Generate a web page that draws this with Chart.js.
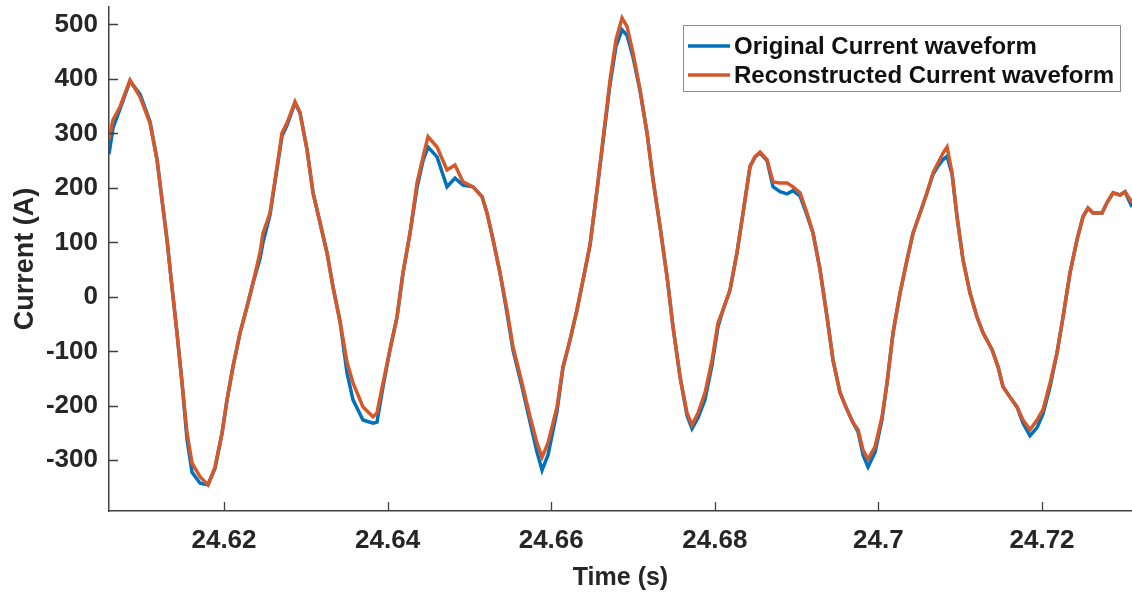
<!DOCTYPE html>
<html>
<head>
<meta charset="utf-8">
<title>Current waveform</title>
<script src="https://cdn.jsdelivr.net/npm/chart.js@4.4.1/dist/chart.umd.min.js"></script>
<style>
  html, body { margin: 0; padding: 0; background: #ffffff; overflow: hidden; }
  #wrap { width: 1132px; height: 593px; position: relative; }
</style>
</head>
<body>
<div id="wrap"><canvas id="chart" width="1132" height="593"></canvas></div>
<script>
// Sample times (s)
const timeS = [
  24.60594, 24.60643, 24.60729, 24.60851, 24.60973, 24.61095, 24.61181, 24.61242, 24.61303, 24.61364,
  24.61425, 24.61487, 24.61548, 24.61609, 24.61707, 24.61804, 24.61890, 24.61976, 24.62037, 24.62110,
  24.62196, 24.62281, 24.62355, 24.62440, 24.62477, 24.62562, 24.62648, 24.62709, 24.62770, 24.62868,
  24.62929, 24.63015, 24.63088, 24.63174, 24.63259, 24.63333, 24.63418, 24.63504, 24.63577, 24.63699,
  24.63822, 24.63870, 24.63944, 24.64029, 24.64115, 24.64188, 24.64274, 24.64359, 24.64433, 24.64494,
  24.64604, 24.64726, 24.64824, 24.64922, 24.65044, 24.65154, 24.65215, 24.65289, 24.65374, 24.65460,
  24.65533, 24.65643, 24.65741, 24.65826, 24.65888, 24.65961, 24.66071, 24.66144, 24.66230, 24.66315,
  24.66389, 24.66474, 24.66560, 24.66646, 24.66719, 24.66792, 24.66866, 24.66927, 24.67000, 24.67086,
  24.67171, 24.67245, 24.67330, 24.67416, 24.67489, 24.67575, 24.67660, 24.67721, 24.67795, 24.67880,
  24.67966, 24.68039, 24.68100, 24.68186, 24.68271, 24.68345, 24.68430, 24.68491, 24.68553, 24.68638,
  24.68712, 24.68797, 24.68883, 24.68956, 24.69042, 24.69127, 24.69201, 24.69286, 24.69372, 24.69445,
  24.69531, 24.69616, 24.69690, 24.69751, 24.69812, 24.69873, 24.69959, 24.70044, 24.70105, 24.70179,
  24.70264, 24.70350, 24.70423, 24.70509, 24.70594, 24.70668, 24.70729, 24.70790, 24.70839, 24.70900,
  24.70961, 24.71034, 24.71120, 24.71205, 24.71279, 24.71389, 24.71462, 24.71523, 24.71609, 24.71694,
  24.71768, 24.71853, 24.71939, 24.72012, 24.72098, 24.72183, 24.72257, 24.72342, 24.72428, 24.72501,
  24.72562, 24.72624, 24.72734, 24.72795, 24.72868, 24.72954, 24.73015, 24.73100
];

// Measured current (A)
const originalA = [
  262, 310, 345, 396, 372, 322, 252, 178, 105, 18,
  -66, -158, -262, -322, -342, -345, -315, -250, -189, -128,
  -66, -18, 26, 70, 100, 150, 235, 295, 315, 356,
  338, 270, 191, 136, 81, 18, -45, -140, -189, -226,
  -232, -230, -165, -97, -37, 44, 117, 200, 250, 275,
  257, 202, 218, 205, 202, 184, 154, 105, 44, -30,
  -98, -165, -230, -285, -318, -290, -210, -130, -79, -24,
  31, 95, 196, 300, 390, 460, 490, 480, 440, 378,
  301, 215, 129, 37, -55, -147, -218, -242, -222, -189,
  -125, -55, -24, 13, 81, 154, 239, 257, 264, 250,
  202, 193, 189, 195, 185, 150, 117, 50, -37, -116,
  -176, -207, -231, -248, -290, -312, -285, -225, -158, -66,
  7, 68, 117, 154, 191, 225, 240, 252, 258, 225,
  147, 68, 7, -37, -66, -97, -128, -165, -184, -202,
  -232, -255, -240, -215, -165, -103, -37, 44, 105, 147,
  163, 154, 154, 173, 191, 187, 193, 165
];

// Reconstructed current (A)
const reconstructedA = [
  290, 325, 349, 398, 367, 319, 252, 178, 105, 18,
  -66, -158, -250, -305, -330, -345, -312, -250, -189, -128,
  -66, -18, 26, 81, 117, 154, 239, 301, 319, 358,
  338, 270, 191, 136, 81, 18, -45, -120, -158, -202,
  -220, -213, -158, -97, -37, 44, 117, 209, 257, 294,
  275, 233, 242, 211, 202, 184, 154, 105, 44, -24,
  -92, -158, -220, -268, -294, -268, -202, -128, -79, -24,
  31, 95, 196, 306, 398, 472, 512, 496, 448, 380,
  301, 215, 129, 37, -55, -147, -213, -235, -213, -176,
  -116, -48, -24, 13, 81, 154, 239, 257, 266, 252,
  211, 209, 209, 202, 191, 154, 117, 50, -37, -116,
  -176, -207, -231, -244, -281, -298, -275, -220, -158, -66,
  7, 68, 117, 154, 191, 228, 246, 264, 275, 228,
  147, 68, 7, -37, -66, -97, -128, -165, -184, -202,
  -226, -244, -226, -207, -158, -103, -37, 44, 105, 147,
  163, 154, 154, 173, 191, 187, 193, 173
];

// Axis ticks
const yTicks = [-300, -200, -100, 0, 100, 200, 300, 400, 500];
const xTicks = [24.62, 24.64, 24.66, 24.68, 24.70, 24.72];
const xTickLabels = ['24.62', '24.64', '24.66', '24.68', '24.7', '24.72'];

const seriesNames = ['Original Current waveform', 'Reconstructed Current waveform'];

const FONT = '"Liberation Sans", Arial, Helvetica, sans-serif';
const INK = '#262626';
const AXIS = '#404040';
const BLUE = '#0072BD';
const ORANGE = '#D4582A';

const toPoints = (vals) => vals.map((v, i) => ({ x: timeS[i], y: v }));

// Inward-pointing tick marks on the left and bottom axes
const innerTicks = {
  id: 'innerTicks',
  afterDraw(chart, args, opts) {
    const { ctx, chartArea } = chart;
    const xs = chart.scales.x, ys = chart.scales.y;
    ctx.save();
    ctx.strokeStyle = AXIS;
    ctx.lineWidth = 1.3;
    ctx.beginPath();
    yTicks.forEach(v => {
      const py = Math.round(ys.getPixelForValue(v)) + 0.5;
      ctx.moveTo(chartArea.left, py);
      ctx.lineTo(chartArea.left + opts.length, py);
    });
    xTicks.forEach(v => {
      const px = Math.round(xs.getPixelForValue(v)) + 0.5;
      ctx.moveTo(px, chartArea.bottom);
      ctx.lineTo(px, chartArea.bottom - opts.length);
    });
    ctx.stroke();
    ctx.restore();
  }
};

// Boxed legend in the upper right of the plot area
const boxLegend = {
  id: 'boxLegend',
  afterDraw(chart, args, opts) {
    const { ctx, chartArea } = chart;
    const right = chartArea.right - opts.marginRight;
    const top = chartArea.top + opts.marginTop;
    const left = right - opts.width;
    ctx.save();
    ctx.fillStyle = '#ffffff';
    ctx.fillRect(left, top, opts.width, opts.height);
    ctx.strokeStyle = '#8c8c8c';
    ctx.lineWidth = 1;
    ctx.strokeRect(Math.round(left) + 0.5, Math.round(top) + 0.5, opts.width, opts.height);
    ctx.font = 'bold ' + opts.fontSize + 'px ' + FONT;
    ctx.textBaseline = 'middle';
    ctx.textAlign = 'left';
    chart.data.datasets.forEach((ds, i) => {
      const cy = top + opts.firstRow + i * opts.rowGap;
      ctx.strokeStyle = ds.borderColor;
      ctx.lineWidth = ds.borderWidth;
      ctx.beginPath();
      ctx.moveTo(left + 5, cy);
      ctx.lineTo(left + 5 + opts.sample, cy);
      ctx.stroke();
      ctx.fillStyle = '#111111';
      ctx.fillText(ds.label, left + 9 + opts.sample, cy + 1);
    });
    ctx.restore();
  }
};

new Chart(document.getElementById('chart'), {
  type: 'line',
  data: {
    datasets: [
      {
        label: seriesNames[0],
        data: toPoints(originalA),
        borderColor: BLUE,
        borderWidth: 3.5,
        pointRadius: 0,
        tension: 0,
        order: 1
      },
      {
        label: seriesNames[1],
        data: toPoints(reconstructedA),
        borderColor: ORANGE,
        borderWidth: 3.5,
        pointRadius: 0,
        tension: 0,
        order: 0
      }
    ]
  },
  options: {
    responsive: false,
    animation: false,
    events: [],
    layout: { padding: { top: 7, right: 0, left: 0, bottom: 0 } },
    plugins: {
      legend: { display: false },
      tooltip: { enabled: false },
      innerTicks: { length: 9 },
      boxLegend: { width: 437, height: 66, marginRight: 12, marginTop: 18, firstRow: 21, rowGap: 29, sample: 42, fontSize: 24 }
    },
    scales: {
      x: {
        type: 'linear',
        min: 24.60594,
        max: 24.7310,
        afterFit(scale) { scale.height = 82; scale.paddingLeft = 0; scale.paddingRight = 0; },
        afterBuildTicks(scale) { scale.ticks = xTicks.map(v => ({ value: v })); },
        grid: { display: false, drawTicks: false },
        border: { display: true, color: AXIS, width: 1.5 },
        ticks: {
          autoSkip: false,
          maxRotation: 0,
          padding: 14,
          color: INK,
          font: { family: FONT, size: 26, weight: 'bold' },
          callback: (v) => { const k = xTicks.findIndex(t => Math.abs(t - v) < 1e-9); return k >= 0 ? xTickLabels[k] : ''; }
        },
        title: {
          display: true,
          text: 'Time (s)',
          color: INK,
          font: { family: FONT, size: 25, weight: 'bold' },
          padding: { top: 0, bottom: 0 }
        }
      },
      y: {
        type: 'linear',
        min: -393,
        max: 532,
        afterFit(scale) { scale.width = 109; scale.paddingTop = 0; scale.paddingBottom = 0; },
        afterBuildTicks(scale) { scale.ticks = yTicks.map(v => ({ value: v })); },
        grid: { display: false, drawTicks: false },
        border: { display: true, color: AXIS, width: 1.5 },
        ticks: {
          autoSkip: false,
          padding: 11,
          color: INK,
          font: { family: FONT, size: 26, weight: 'bold' },
          callback: (v) => String(v)
        },
        title: {
          display: true,
          text: 'Current (A)',
          color: INK,
          font: { family: FONT, size: 27, weight: 'bold' },
          padding: { top: 9, bottom: 0 }
        }
      }
    }
  },
  plugins: [innerTicks, boxLegend]
});
</script>
</body>
</html>
